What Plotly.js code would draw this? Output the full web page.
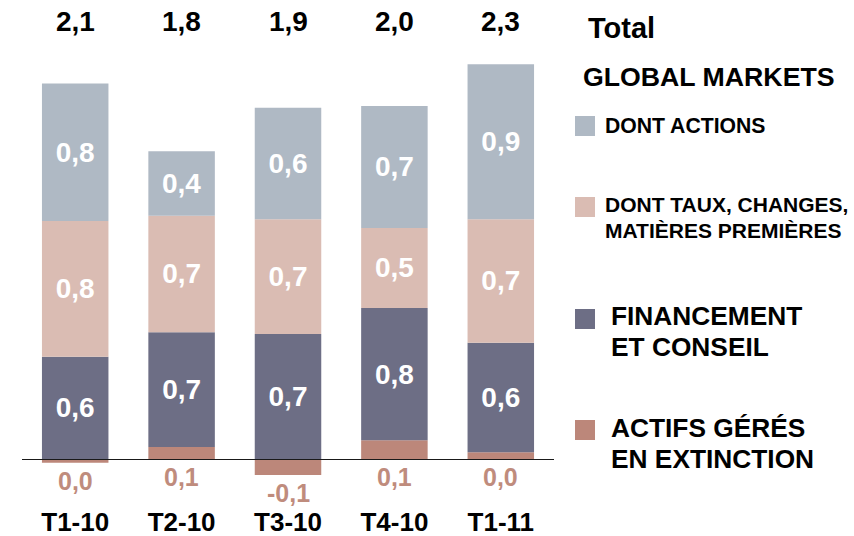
<!DOCTYPE html>
<html>
<head>
<meta charset="utf-8">
<script src="https://cdn.plot.ly/plotly-3.0.1.min.js"></script>
<style>
  html, body { margin: 0; padding: 0; background: #ffffff; }
  #chart { width: 854px; height: 536px; }
</style>
</head>
<body>
<div id="chart"></div>
<script>
// Quarterly revenue breakdown (stacked), in billions
const categories = ['T1-10', 'T2-10', 'T3-10', 'T4-10', 'T1-11'];
const actifsGeres = [-0.02, 0.07, -0.09, 0.11, 0.04];
const financement = [0.59, 0.66, 0.72, 0.76, 0.63];
const tauxChanges = [0.78, 0.67, 0.66, 0.46, 0.71];
const actions = [0.79, 0.37, 0.64, 0.70, 0.89];

const totalHeader = 'Total';
const groupHeader = 'GLOBAL MARKETS';
const seriesNames = {
  actions: 'DONT ACTIONS',
  taux: 'DONT TAUX, CHANGES,<br>MATIÈRES PREMIÈRES',
  financement: 'FINANCEMENT<br>ET CONSEIL',
  actifs: 'ACTIFS GÉRÉS<br>EN EXTINCTION'
};

const COLORS = {
  actions: '#afb9c4',
  taux: '#dabcb3',
  financement: '#6d6e85',
  actifs: '#bc877a',
  actifsText: '#bf8c7d'
};
const FONT = 'Arial, "Liberation Sans", sans-serif';

// one decimal, French comma, no negative zero
function fmt(v) {
  let r = Math.round(v * 10) / 10;
  if (r === 0) r = 0;
  return r.toFixed(1).replace('.', ',');
}

const totals = categories.map((_, i) =>
  actifsGeres[i] + financement[i] + tauxChanges[i] + actions[i]);

function barTrace(name, values, color, showText) {
  return {
    type: 'bar',
    name: name,
    x: categories,
    y: values,
    marker: { color: color, line: { width: 0 } },
    text: showText ? values.map(fmt) : undefined,
    textposition: showText ? 'inside' : 'none',
    insidetextanchor: 'middle',
    textangle: 0,
    constraintext: 'none',
    textfont: { family: FONT, size: 28, color: '#ffffff', weight: 'bold' },
    hoverinfo: 'x+y+name'
  };
}

const traces = [
  barTrace('ACTIFS GÉRÉS EN EXTINCTION', actifsGeres, COLORS.actifs, false),
  barTrace('FINANCEMENT ET CONSEIL', financement, COLORS.financement, true),
  barTrace('DONT TAUX, CHANGES, MATIÈRES PREMIÈRES', tauxChanges, COLORS.taux, true),
  barTrace('DONT ACTIONS', actions, COLORS.actions, true)
];

// plot frame in pixels
const W = 854, H = 536;
const M = { l: 22, r: 300, t: 0, b: 40 };
const plotW = W - M.l - M.r;
const plotH = H - M.t - M.b;
const px2x = p => (p - M.l) / plotW;
const px2y = p => (M.t + plotH - p) / plotH;

const annotations = [];
const shapes = [];

// totals row above the bars
categories.forEach((c, i) => {
  annotations.push({
    x: c, xref: 'x', y: px2y(22), yref: 'paper',
    text: fmt(totals[i]), showarrow: false,
    xanchor: 'center', yanchor: 'middle',
    font: { family: FONT, size: 28, color: '#000000', weight: 'bold' }
  });
});

// labels for the run-off segment, just under each bar
categories.forEach((c, i) => {
  annotations.push({
    x: c, xref: 'x', y: Math.min(actifsGeres[i], 0), yref: 'y',
    text: '<b>' + fmt(actifsGeres[i]) + '</b>', showarrow: false,
    xanchor: 'center', yanchor: 'middle', yshift: -18,
    font: { family: FONT, size: 25, color: COLORS.actifsText, weight: 'bold' }
  });
});

// legend block on the right
function textLine(text, xPx, yPx, size) {
  annotations.push({
    x: px2x(xPx), xref: 'paper', y: px2y(yPx), yref: 'paper',
    text: text, showarrow: false, xanchor: 'left', yanchor: 'middle',
    font: { family: FONT, size: size, color: '#000000', weight: 'bold' }
  });
}
function swatch(color, yTopPx) {
  shapes.push({
    type: 'rect', xref: 'paper', yref: 'paper',
    x0: px2x(575), x1: px2x(595), y0: px2y(yTopPx + 20), y1: px2y(yTopPx),
    fillcolor: color, line: { width: 0 }
  });
}
function legendItem(name, color, swatchTop, textX, firstLineY, lineGap, size) {
  swatch(color, swatchTop);
  name.split('<br>').forEach((line, k) => {
    textLine(line, textX, firstLineY + k * lineGap, size);
  });
}

textLine(totalHeader, 586, 28, 29);
textLine(groupHeader, 581, 77, 26.7);
legendItem(seriesNames.actions, COLORS.actions, 116, 603, 125, 0, 21.2);
legendItem(seriesNames.taux, COLORS.taux, 197, 603, 204.5, 25.5, 21.0);
legendItem(seriesNames.financement, COLORS.financement, 309, 609, 315.5, 31, 26.3);
legendItem(seriesNames.actifs, COLORS.actifs, 420, 609, 427.5, 31.5, 26.3);

const yScale = 174; // pixels per unit
const baselinePx = 459.3;
const yMax = (baselinePx - M.t) / yScale;
const yMin = yMax - plotH / yScale;

const layout = {
  width: W, height: H,
  margin: M,
  paper_bgcolor: '#ffffff',
  plot_bgcolor: '#ffffff',
  barmode: 'relative',
  bargap: 0.375,
  showlegend: false,
  font: { family: FONT },
  xaxis: {
    type: 'category',
    range: [-0.5, categories.length - 0.5],
    showgrid: false, showline: false, zeroline: false, ticks: '',
    tickfont: { family: FONT, size: 26, color: '#000000', weight: 'bold' },
    ticklabelstandoff: 8,
    fixedrange: true
  },
  yaxis: {
    range: [yMin, yMax],
    showgrid: false, showline: false, showticklabels: false, ticks: '',
    zeroline: true, zerolinecolor: '#1a1a1a', zerolinewidth: 1.5,
    zerolinelayer: 'above traces',
    fixedrange: true
  },
  annotations: annotations,
  shapes: shapes
};

Plotly.newPlot('chart', traces, layout, { displayModeBar: false, staticPlot: true });
</script>
</body>
</html>
